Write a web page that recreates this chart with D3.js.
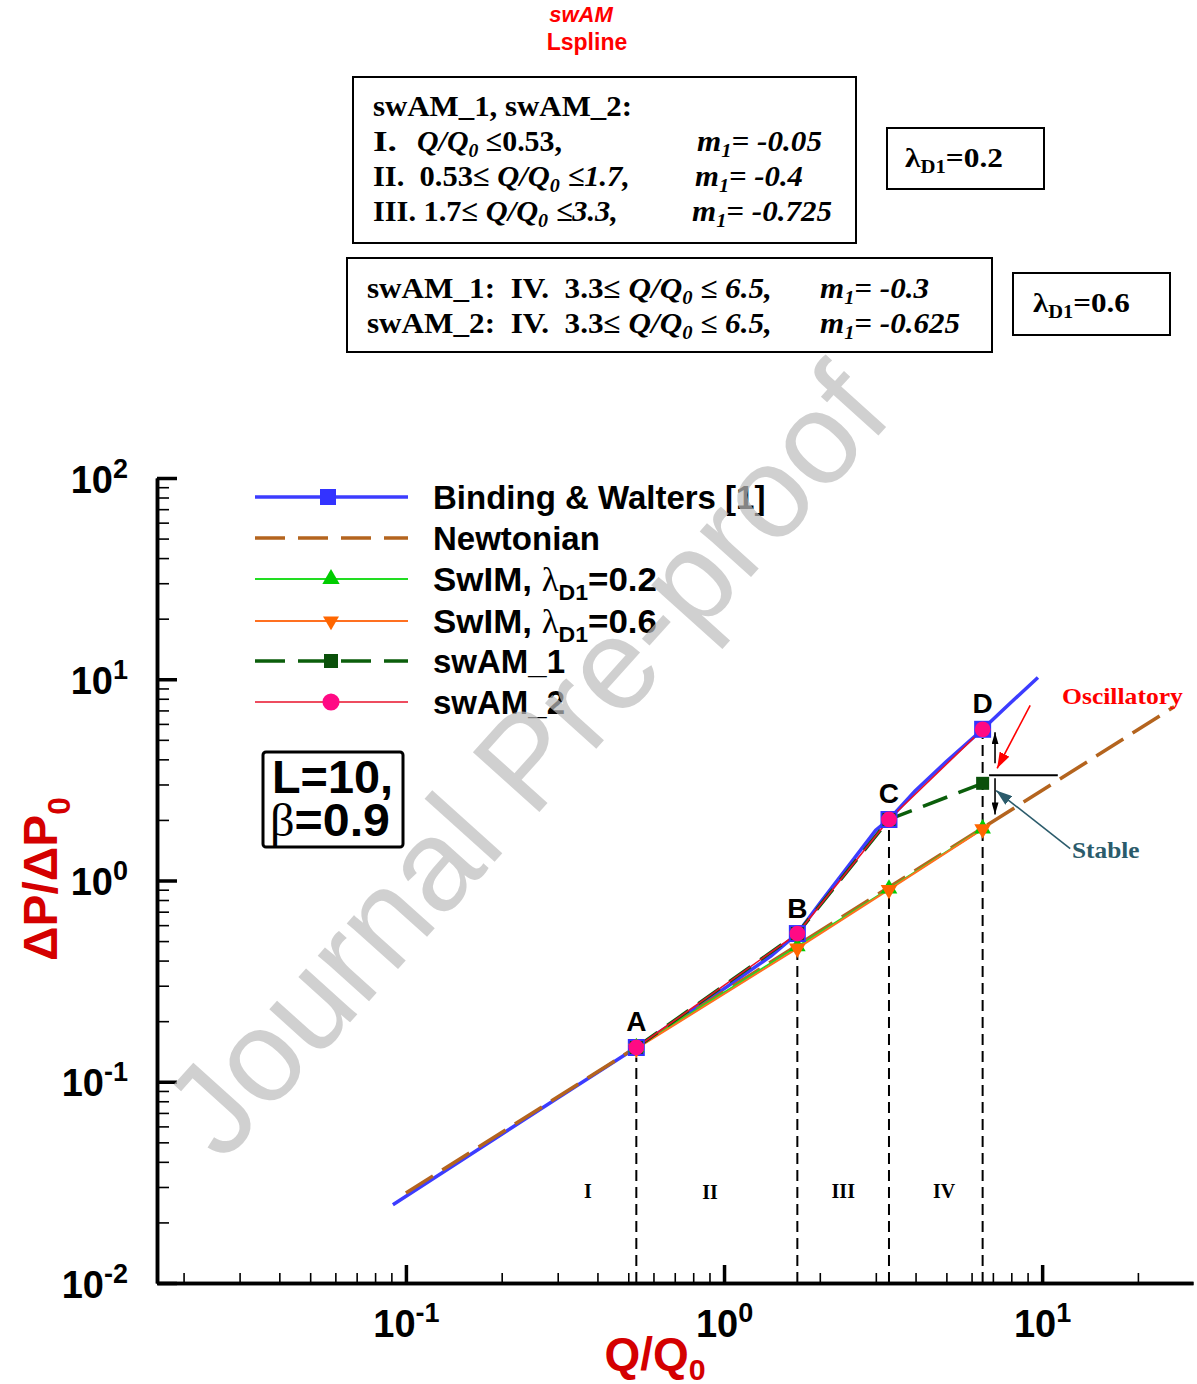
<!DOCTYPE html>
<html>
<head>
<meta charset="utf-8">
<script src="https://cdn.jsdelivr.net/npm/d3@7"></script>
<style>
  body { margin: 0; background: #fff; }
  svg { display: block; }
  text { white-space: pre; }
</style>
</head>
<body>
<svg id="root"></svg>
<script>
// Pressure drop vs flow rate, log-log, with swAM / SwIM model results

// ---- data ----
const qBinding = [0.091, 0.3, 0.53, 1.0, 1.4, 1.7, 2.0, 2.5, 3.0, 3.3, 4.0, 5.0, 6.5, 7.5, 9.7];
const pBinding = [0.0245, 0.083, 0.148, 0.29, 0.42, 0.545, 0.77, 1.22, 1.78, 2.01, 2.8, 3.9, 5.64, 7.0, 10.2];

const qNewton = [0.1, 26];
const pNewton = [0.028, 7.3];

const qModel = [0.53, 1.7, 3.3, 6.5];          // A, B, C, D
const pSwim02 = [0.148, 0.47, 0.91, 1.81];
const pSwim06 = [0.146, 0.46, 0.90, 1.80];
const pSwam1 = [0.148, 0.545, 2.01, 3.04];
const pSwam2 = [0.148, 0.545, 2.01, 5.64];
const pointNames = ["A", "B", "C", "D"];
const qMarkers = [0.53, 1.7, 3.3, 6.5];        // Binding & Walters markers
const pMarkers = [0.148, 0.545, 2.01, 5.64];

const boundaryTop = [0.132, 0.438, 1.81, 5.1]; // dashed region lines end here
const regionNames = ["I", "II", "III", "IV"];
const regionQ = [0.373, 0.904, 2.37, 4.92];
const regionP = [0.0265, 0.026, 0.0265, 0.0265];

const xMajor = [0.1, 1, 10];
const xExp = ["-1", "0", "1"];
const yMajor = [0.01, 0.1, 1, 10, 100];
const yExp = ["-2", "-1", "0", "1", "2"];

const legendNames = ["Binding & Walters [1]", "Newtonian", "SwIM, ", "SwIM, ", "swAM_1", "swAM_2"];
const legendLambda = [null, null, "=0.2", "=0.6", null, null];

// ---- setup ----
const W = 1197, H = 1384;
const sans = "'Liberation Sans', Arial, Helvetica, sans-serif";
const serif = "'Liberation Serif', 'Times New Roman', serif";

const svg = d3.select("#root").attr("width", W).attr("height", H);

const x = d3.scaleLog().domain([0.0165, 29.8]).range([157, 1193]);
const y = d3.scaleLog().domain([0.01, 100]).range([1283, 478]);

const defs = svg.append("defs");
function arrowHead(id, color, len, wid) {
  defs.append("marker")
    .attr("id", id).attr("viewBox", `0 0 ${len} ${wid}`)
    .attr("refX", len).attr("refY", wid / 2)
    .attr("markerWidth", len).attr("markerHeight", wid)
    .attr("markerUnits", "userSpaceOnUse").attr("orient", "auto")
    .append("path").attr("d", `M0,0L${len},${wid / 2}L0,${wid}Z`).attr("fill", color);
}
arrowHead("ahBlack", "#000", 12, 7);
arrowHead("ahRed", "#ff0000", 16, 11);
arrowHead("ahTeal", "#2b5b6b", 16, 11);

// rich text helper: segs = [[string, "flags"]], flags: i (italic), sub, sym (serif regular)
function rich(parent, px, py, size, family, segs, opts = {}) {
  const t = parent.append("text")
    .attr("x", px).attr("y", py)
    .attr("font-family", family).attr("font-weight", "bold")
    .attr("font-size", size).attr("fill", opts.fill || "#000");
  if (opts.anchor) t.attr("text-anchor", opts.anchor);
  const subDrop = opts.subDrop == null ? 0.28 : opts.subDrop;
  let shift = 0;
  segs.forEach(([str, flags = ""]) => {
    const f = flags.split(" ");
    const target = f.includes("sub") ? size * subDrop : 0;
    const ts = t.append("tspan").text(str).attr("dy", target - shift);
    shift = target;
    if (f.includes("sub")) ts.attr("font-size", size * 0.66);
    if (f.includes("i")) ts.attr("font-style", "italic");
    if (f.includes("sym")) ts.attr("font-family", serif).attr("font-weight", "normal");
  });
  if (opts.width) {
    const w = t.node().getBBox().width;
    const k = opts.width / w;
    t.attr("transform", `translate(${px},0) scale(${k},1) translate(${-px},0)`);
  }
  return t;
}

// ---- axes ----
const xMinor = x.ticks().filter(v => !xMajor.some(m => Math.abs(m - v) < 1e-9));
const yMinor = y.ticks().filter(v => !yMajor.some(m => Math.abs(m - v) < 1e-9));

function styleAxis(g) {
  g.select(".domain").attr("stroke-width", 3.5);
  g.selectAll(".tick line").attr("stroke", "#000");
}

svg.append("g").attr("transform", `translate(0,${y(0.01)})`)
  .call(d3.axisBottom(x).tickValues(xMinor).tickSize(-10).tickSizeOuter(0).tickFormat(""))
  .call(styleAxis)
  .call(g => g.selectAll(".tick line").attr("stroke-width", 1.6));

const gxM = svg.append("g").attr("transform", `translate(0,${y(0.01)})`)
  .call(d3.axisBottom(x).tickValues(xMajor).tickSize(-18).tickSizeOuter(0))
  .call(styleAxis)
  .call(g => g.selectAll(".tick line").attr("stroke-width", 3.5));
gxM.selectAll(".tick text").each(function (d, i) {
  const t = d3.select(this).text(null)
    .attr("y", 54).attr("dy", null).attr("fill", "#000")
    .attr("font-family", sans).attr("font-weight", "bold").attr("font-size", 38)
    .attr("text-anchor", "middle");
  t.append("tspan").text("10");
  t.append("tspan").text(xExp[i]).attr("font-size", 27).attr("dy", -15);
});

svg.append("g").attr("transform", `translate(${x.range()[0]},0)`)
  .call(d3.axisLeft(y).tickValues(yMinor).tickSize(-12).tickSizeOuter(0).tickFormat(""))
  .call(styleAxis)
  .call(g => g.selectAll(".tick line").attr("stroke-width", 1.6));

const gyM = svg.append("g").attr("transform", `translate(${x.range()[0]},0)`)
  .call(d3.axisLeft(y).tickValues(yMajor).tickSize(-20).tickSizeOuter(0))
  .call(styleAxis)
  .call(g => g.selectAll(".tick line").attr("stroke-width", 3.5));
gyM.selectAll(".tick text").each(function (d, i) {
  const t = d3.select(this).text(null)
    .attr("x", -29).attr("y", 14).attr("dy", null).attr("fill", "#000")
    .attr("font-family", sans).attr("font-weight", "bold").attr("font-size", 38)
    .attr("text-anchor", "end");
  t.append("tspan").text("10");
  t.append("tspan").text(yExp[i]).attr("font-size", 27).attr("dy", -15);
});

// axis titles
rich(svg, 655, 1370, 46, sans, [["Q/Q"], ["0", "sub"]], { fill: "#d40000", anchor: "middle", subDrop: 0.22 });
rich(svg.append("g").attr("transform", "translate(57,879) rotate(-90)"), 0, 0, 48, sans,
  [["ΔP/ΔP"], ["0", "sub"]], { fill: "#d40000", anchor: "middle" });

// ---- lines ----
const line = d3.line().x(d => x(d[0])).y(d => y(d[1]));
const zip = (qs, ps) => qs.map((q, i) => [q, ps[i]]);

svg.append("path").datum(zip(qBinding, pBinding))
  .attr("d", line).attr("fill", "none").attr("stroke", "#3c3cff").attr("stroke-width", 3.5)
  .attr("stroke-linejoin", "round");
svg.append("path").datum(zip(qNewton, pNewton))
  .attr("d", line).attr("fill", "none").attr("stroke", "#b4641e").attr("stroke-width", 3.5)
  .attr("stroke-dasharray", "32,11");
svg.append("path").datum(zip(qModel, pSwim02))
  .attr("d", line).attr("fill", "none").attr("stroke", "#22dd22").attr("stroke-width", 2);
svg.append("path").datum(zip(qModel, pSwim06))
  .attr("d", line).attr("fill", "none").attr("stroke", "#ff7020").attr("stroke-width", 2);
svg.append("path").datum(zip(qModel, pSwam1))
  .attr("d", line).attr("fill", "none").attr("stroke", "#0b5e0b").attr("stroke-width", 3.5)
  .attr("stroke-dasharray", "26,12");
svg.append("path").datum(zip(qModel, pSwam2))
  .attr("d", line).attr("fill", "none").attr("stroke", "#e8102a").attr("stroke-width", 1.6);

// region boundaries
svg.append("g").selectAll("line").data(qModel).join("line")
  .attr("x1", d => x(d)).attr("x2", d => x(d))
  .attr("y1", y(0.01)).attr("y2", (d, i) => y(boundaryTop[i]))
  .attr("stroke", "#000").attr("stroke-width", 2).attr("stroke-dasharray", "11,6");

// ---- markers ----
const sq = d3.symbol(d3.symbolSquare);
const tri = d3.symbol(d3.symbolTriangle);
const circ = d3.symbol(d3.symbolCircle);

svg.append("g").selectAll("path").data(zip(qMarkers, pMarkers)).join("path")
  .attr("transform", d => `translate(${x(d[0])},${y(d[1])})`)
  .attr("d", sq.size(289)()).attr("fill", "#3333ff");
svg.append("g").selectAll("path").data(zip(qModel, pSwim02)).join("path")
  .attr("transform", d => `translate(${x(d[0])},${y(d[1])})`)
  .attr("d", tri.size(120)()).attr("fill", "#00cc00");
svg.append("g").selectAll("path").data(zip(qModel, pSwim06)).join("path")
  .attr("transform", d => `translate(${x(d[0])},${y(d[1])}) rotate(180)`)
  .attr("d", tri.size(120)()).attr("fill", "#ff6600");
svg.append("g").selectAll("path").data(zip(qModel, pSwam1)).join("path")
  .attr("transform", d => `translate(${x(d[0])},${y(d[1])})`)
  .attr("d", sq.size(169)()).attr("fill", "#0a500a");
svg.append("g").selectAll("path").data(zip(qModel, pSwam2)).join("path")
  .attr("transform", d => `translate(${x(d[0])},${y(d[1])})`)
  .attr("d", circ.size(195)()).attr("fill", "#ff0a84");

// point names A-D
svg.append("g").selectAll("text").data(pointNames).join("text")
  .attr("x", (d, i) => x(qMarkers[i]))
  .attr("y", (d, i) => y(pMarkers[i]) - 16)
  .attr("text-anchor", "middle")
  .attr("font-family", sans).attr("font-weight", "bold").attr("font-size", 28)
  .text(d => d);

// region names
svg.append("g").selectAll("text").data(regionNames).join("text")
  .attr("x", (d, i) => x(regionQ[i])).attr("y", (d, i) => y(regionP[i]))
  .attr("text-anchor", "middle")
  .attr("font-family", serif).attr("font-weight", "bold").attr("font-size", 20)
  .text(d => d);

// ---- oscillatory / stable annotation ----
const ann = svg.append("g");
ann.append("line")
  .attr("x1", x(6.81)).attr("x2", x(11.2)).attr("y1", y(3.33)).attr("y2", y(3.33))
  .attr("stroke", "#000").attr("stroke-width", 2);
ann.append("line")
  .attr("x1", x(7.11)).attr("x2", x(7.11)).attr("y1", y(3.82)).attr("y2", y(5.45))
  .attr("stroke", "#000").attr("stroke-width", 1.6).attr("marker-end", "url(#ahBlack)");
ann.append("line")
  .attr("x1", x(7.11)).attr("x2", x(7.11)).attr("y1", y(3.22)).attr("y2", y(2.13))
  .attr("stroke", "#000").attr("stroke-width", 1.6).attr("marker-end", "url(#ahBlack)");
ann.append("line")
  .attr("x1", x(9.17)).attr("y1", y(7.42)).attr("x2", x(7.22)).attr("y2", y(3.61))
  .attr("stroke", "#ff0000").attr("stroke-width", 1.6).attr("marker-end", "url(#ahRed)");
ann.append("line")
  .attr("x1", x(12.25)).attr("y1", y(1.44)).attr("x2", x(7.17)).attr("y2", y(2.8))
  .attr("stroke", "#2b5b6b").attr("stroke-width", 1.6).attr("marker-end", "url(#ahTeal)");
rich(ann, 1062, 704, 24, serif, [["Oscillatory"]], { fill: "#ff0000", width: 121 });
rich(ann, 1072, 858, 24, serif, [["Stable"]], { fill: "#2b5b6b", width: 68 });

// ---- legend ----
const legendY = [497, 538, 579, 621, 661, 702];
const lg = svg.append("g");
const legendStyles = [
  { stroke: "#3c3cff", w: 3.5, dash: null, sym: sq.size(256)(), fill: "#3333ff", rot: 0 },
  { stroke: "#b4641e", w: 3.5, dash: "30,13", sym: null },
  { stroke: "#22dd22", w: 2, dash: null, sym: tri.size(130)(), fill: "#00cc00", rot: 0 },
  { stroke: "#ff7020", w: 2, dash: null, sym: tri.size(110)(), fill: "#ff6600", rot: 180 },
  { stroke: "#0b5e0b", w: 3.5, dash: "30,13", sym: sq.size(196)(), fill: "#0a500a", rot: 0 },
  { stroke: "#e8102a", w: 1.6, dash: null, sym: circ.size(230)(), fill: "#ff0a84", rot: 0 }
];
legendNames.forEach((name, i) => {
  const s = legendStyles[i];
  const yy = legendY[i];
  lg.append("line").attr("x1", 255).attr("x2", 408).attr("y1", yy).attr("y2", yy)
    .attr("stroke", s.stroke).attr("stroke-width", s.w).attr("stroke-dasharray", s.dash);
  if (s.sym) {
    lg.append("path").attr("d", s.sym).attr("fill", s.fill)
      .attr("transform", `translate(${i === 0 ? 328 : 331},${yy}) rotate(${s.rot})`);
  }
  if (legendLambda[i]) {
    rich(lg, 433, yy + 12, 33, sans,
      [[name], ["λ", "sym"], ["D1", "sub"], [legendLambda[i]]], { width: 224 });
  } else {
    rich(lg, 433, yy + 12, 33, sans, [[name]]);
  }
});

// L / beta box
svg.append("rect").attr("x", 263).attr("y", 752).attr("width", 140).attr("height", 95)
  .attr("rx", 3).attr("fill", "none").attr("stroke", "#000").attr("stroke-width", 3);
rich(svg, 272, 793, 46, sans, [["L=10,"]], { width: 121 });
rich(svg, 270, 836, 46, sans, [["β", "sym"], ["=0.9"]], { width: 120 });

// ---- header text and boxes ----
rich(svg, 581, 22, 22, sans, [["swAM", "i"]], { fill: "#ff0000", anchor: "middle" });
rich(svg, 587, 50, 23, sans, [["Lspline"]], { fill: "#ff0000", anchor: "middle" });

const box = (x0, y0, x1, y1) => svg.append("rect")
  .attr("x", x0).attr("y", y0).attr("width", x1 - x0).attr("height", y1 - y0)
  .attr("fill", "none").attr("stroke", "#000").attr("stroke-width", 2);

box(353, 77, 856, 243);
rich(svg, 373, 116, 30, serif, [["swAM_1, swAM_2:"]], { width: 259 });
rich(svg, 373, 151, 30, serif, [["I."]], { width: 24 });
rich(svg, 417, 151, 30, serif, [["Q/Q", "i"], ["0", "i sub"], [" ≤0.53,"]], { width: 145, subDrop: 0.2 });
rich(svg, 697, 151, 30, serif, [["m", "i"], ["1", "i sub"], ["= -0.05", "i"]], { width: 125, subDrop: 0.2 });
rich(svg, 373, 186, 30, serif, [["II.  0.53≤ "], ["Q/Q", "i"], ["0", "i sub"], [" ≤1.7,", "i"]], { width: 257, subDrop: 0.2 });
rich(svg, 695, 186, 30, serif, [["m", "i"], ["1", "i sub"], ["= -0.4", "i"]], { width: 108, subDrop: 0.2 });
rich(svg, 373, 221, 30, serif, [["III. 1.7≤ "], ["Q/Q", "i"], ["0", "i sub"], [" ≤3.3,", "i"]], { width: 245, subDrop: 0.2 });
rich(svg, 692, 221, 30, serif, [["m", "i"], ["1", "i sub"], ["= -0.725", "i"]], { width: 140, subDrop: 0.2 });

box(887, 128, 1044, 189);
rich(svg, 905, 167, 28, serif, [["λ"], ["D1", "sub"], ["=0.2"]], { width: 98, subDrop: 0.2 });

box(347, 258, 992, 352);
rich(svg, 367, 298, 29, serif, [["swAM_1:  IV.  3.3≤ "], ["Q/Q", "i"], ["0", "i sub"], [" ≤ 6.5,", "i"]], { width: 405, subDrop: 0.2 });
rich(svg, 820, 298, 29, serif, [["m", "i"], ["1", "i sub"], ["= -0.3", "i"]], { width: 109, subDrop: 0.2 });
rich(svg, 367, 333, 29, serif, [["swAM_2:  IV.  3.3≤ "], ["Q/Q", "i"], ["0", "i sub"], [" ≤ 6.5,", "i"]], { width: 405, subDrop: 0.2 });
rich(svg, 820, 333, 29, serif, [["m", "i"], ["1", "i sub"], ["= -0.625", "i"]], { width: 140, subDrop: 0.2 });

box(1013, 273, 1170, 335);
rich(svg, 1033, 312, 28, serif, [["λ"], ["D1", "sub"], ["=0.6"]], { width: 97, subDrop: 0.2 });

// ---- watermark ----
svg.append("text")
  .attr("transform", "translate(525,760) rotate(-48)")
  .attr("text-anchor", "middle").attr("dy", "0.35em")
  .attr("font-family", sans).attr("font-size", 130)
  .attr("fill", "#bdbdbd").attr("opacity", 0.7)
  .text("Journal Pre-proof");
</script>
</body>
</html>
